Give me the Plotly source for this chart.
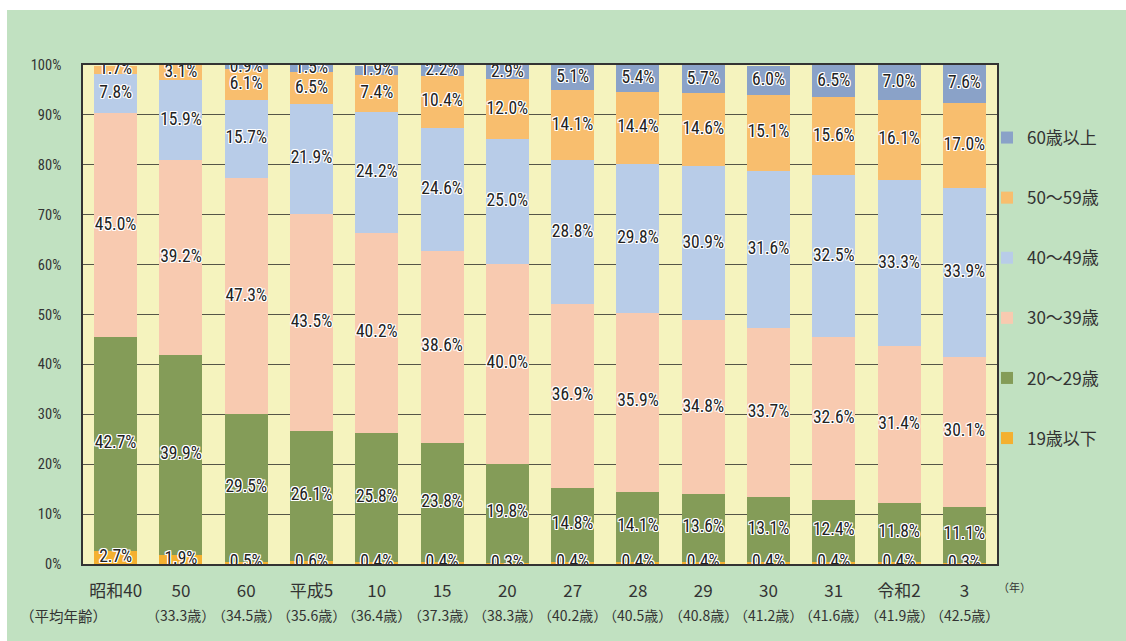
import plotly.graph_objects as go
import numpy as np

categories = ["昭和40", "50", "60", "平成5", "10", "15", "20", "27", "28", "29", "30", "31", "令和2", "3"]
avg_age = ["", "33.3", "34.5", "35.6", "36.4", "37.3", "38.3", "40.2", "40.5", "40.8", "41.2", "41.6", "41.9", "42.5"]

age_19_under = [2.7, 1.9, 0.5, 0.6, 0.4, 0.4, 0.3, 0.4, 0.4, 0.4, 0.4, 0.4, 0.4, 0.3]
age_20s = [42.7, 39.9, 29.5, 26.1, 25.8, 23.8, 19.8, 14.8, 14.1, 13.6, 13.1, 12.4, 11.8, 11.1]
age_30s = [45.0, 39.2, 47.3, 43.5, 40.2, 38.6, 40.0, 36.9, 35.9, 34.8, 33.7, 32.6, 31.4, 30.1]
age_40s = [7.8, 15.9, 15.7, 21.9, 24.2, 24.6, 25.0, 28.8, 29.8, 30.9, 31.6, 32.5, 33.3, 33.9]
age_50s = [1.7, 3.1, 6.1, 6.5, 7.4, 10.4, 12.0, 14.1, 14.4, 14.6, 15.1, 15.6, 16.1, 17.0]
age_60_over = [0.0, 0.0, 0.9, 1.5, 1.9, 2.2, 2.9, 5.1, 5.4, 5.7, 6.0, 6.5, 7.0, 7.6]

series_names = ["19歳以下", "20～29歳", "30～39歳", "40～49歳", "50～59歳", "60歳以上"]
series_values = [age_19_under, age_20s, age_30s, age_40s, age_50s, age_60_over]
series_colors = ["#f4b030", "#849c58", "#f8cab0", "#b8cce8", "#f8be6e", "#8aa2c8"]

LABEL_FONT = "Roboto Condensed, Liberation Sans, sans-serif"
CJK_FONT = "Noto Sans CJK JP, sans-serif"
shadow = ("1px 1px 0 #fff, -1px -1px 0 #fff, 1px -1px 0 #fff, -1px 1px 0 #fff, "
          "0 1px 0 #fff, 0 -1px 0 #fff, 1px 0 0 #fff, -1px 0 0 #fff")

fig = go.Figure()
for i, (name, vals, color) in enumerate(zip(series_names, series_values, series_colors)):
    fig.add_trace(go.Bar(
        x=categories, y=vals, name=name, legendgroup=name,
        legendrank=1000 - i,
        marker=dict(color=color, line=dict(width=0)),
        hoverinfo="skip",
    ))

base = np.zeros(len(categories))
for name, vals in zip(series_names, series_values):
    v = np.array(vals)
    centers = base + v / 2
    mask = v > 0
    fig.add_trace(go.Scatter(
        x=[c for c, m in zip(categories, mask) if m],
        y=centers[mask],
        text=[f"{x:.1f}%" for x in v[mask]],
        mode="text", showlegend=False, hoverinfo="skip",
        textfont=dict(family=LABEL_FONT, size=17.5, color="#222222", shadow=shadow),
    ))
    base = base + v

W, H = 1126, 641
L, R, T, B = 83, 129, 65, 77
pw, ph = W - L - R, H - T - B

def px_x(p):
    return (p - L) / pw

def px_y(p):
    return (H - B - p) / ph

annotations = []
for i, a in enumerate(avg_age):
    if a:
        annotations.append(dict(x=(i + 0.5) / len(categories), xref="paper", y=px_y(615), yref="paper",
                                text=f"（{a}歳）",
                                showarrow=False, xanchor="center", yanchor="middle",
                                font=dict(family=CJK_FONT, size=14, color="#333333")))
annotations.append(dict(x=px_x(63), xref="paper", y=px_y(615), yref="paper", text="（平均年齢）",
                        showarrow=False, xanchor="center", yanchor="middle",
                        font=dict(family=CJK_FONT, size=14.5, color="#333333")))
annotations.append(dict(x=px_x(1015), xref="paper", y=px_y(587), yref="paper", text="（年）",
                        showarrow=False, xanchor="center", yanchor="middle",
                        font=dict(family=CJK_FONT, size=11, color="#333333")))

shapes = [
    dict(type="rect", xref="paper", yref="paper", x0=px_x(0), x1=px_x(7), y0=px_y(H), y1=px_y(0),
         fillcolor="white", line=dict(width=0), layer="below"),
    dict(type="rect", xref="paper", yref="paper", x0=px_x(0), x1=px_x(W), y0=px_y(10), y1=px_y(0),
         fillcolor="white", line=dict(width=0), layer="below"),
]

fig.update_layout(
    width=W, height=H,
    margin=dict(l=L, r=R, t=T, b=B, pad=0),
    barmode="stack", bargap=0.34,
    paper_bgcolor="#c1e1c1", plot_bgcolor="#f5f3be",
    showlegend=True,
    legend=dict(x=px_x(987), xanchor="left", y=px_y(120), yanchor="top",
                traceorder="grouped", tracegroupgap=35,
                bgcolor="rgba(0,0,0,0)",
                font=dict(family=CJK_FONT, size=17, color="#333333")),
    xaxis=dict(type="category", range=[-0.5, len(categories) - 0.5],
               showline=True, linecolor="#333333", linewidth=1.5, mirror=True,
               showgrid=False, ticks="", ticklabelstandoff=11, tickangle=0,
               tickfont=dict(family=CJK_FONT, size=17, color="#333333")),
    yaxis=dict(range=[0, 100], dtick=10, ticksuffix="%", showline=True, linecolor="#333333",
               linewidth=1.5, mirror=True, showgrid=True, gridcolor="#555548", gridwidth=1.2,
               zeroline=False, ticks="", ticklabelstandoff=17,
               tickfont=dict(family=LABEL_FONT, size=14.5, color="#333333")),
    annotations=annotations,
    shapes=shapes,
    hovermode=False,
)

fig.write_html("out.html")
